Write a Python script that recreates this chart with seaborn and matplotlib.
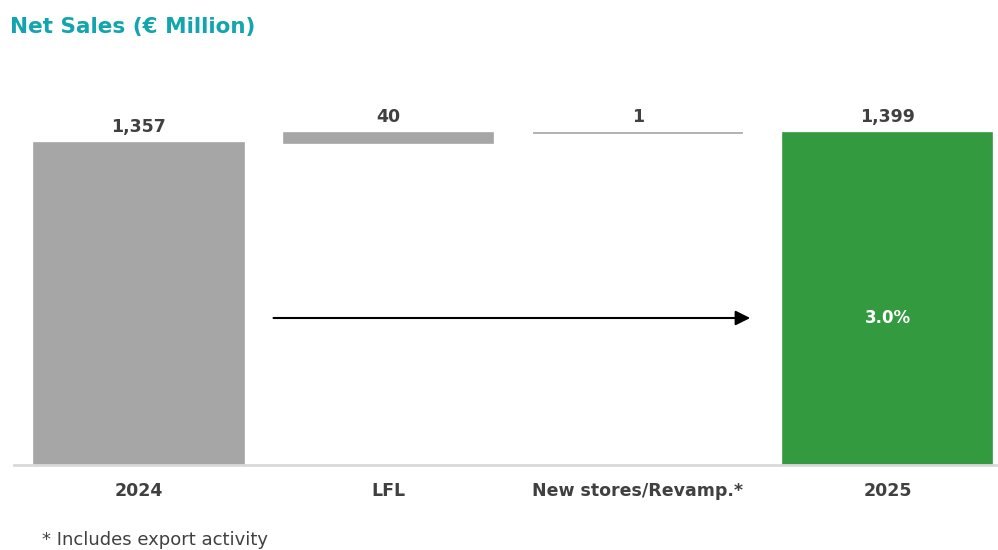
import matplotlib
matplotlib.use("Agg")
import matplotlib.pyplot as plt
import seaborn as sns
import pandas as pd

# Waterfall data (€ million)
categories = ["2024", "LFL", "New stores/Revamp.*", "2025"]
heights = [1357, 40, 1, 1399]
bottoms = [0, 1357, 1397, 0]
value_labels = ["1,357", "40", "1", "1,399"]
growth_label = "3.0%"

GRAY = "#A6A6A6"
GREEN = "#349A3F"
TEXT = "#404040"
TEAL = "#12A5AE"

sns.set_theme(style="white")
plt.rcParams["font.family"] = ["DejaVu Sans"]

fig = plt.figure(figsize=(9.98, 5.5), dpi=100)
ax = fig.add_axes([14 / 998, 1 - 465 / 550, 1 - 14 / 998, (465 - 100) / 550])

df = pd.DataFrame({"category": categories, "value": heights})
sns.barplot(data=df, x="category", y="value", order=categories, color=GRAY,
            width=0.84, bottom=bottoms, saturation=1, ax=ax)

colors = [GRAY, GRAY, GRAY, GREEN]
for patch, c in zip(ax.patches, colors):
    patch.set_facecolor(c)
    patch.set_edgecolor(c)
    patch.set_linewidth(1.2)

ax.set_xlim(-0.5, 3.443)
ax.set_ylim(0, 1537)

# value labels above each bar
for i, (h, b, lab) in enumerate(zip(heights, bottoms, value_labels)):
    top = h + b
    ax.annotate(lab, (i, top), xytext=(0, 5), textcoords="offset points",
                ha="center", va="bottom", fontsize=12.5, fontweight="bold", color=TEXT)

# growth arrow across the bridge and percentage in the final bar
arrow_y = 619
ax.annotate("", xy=(2.45, arrow_y), xytext=(0.54, arrow_y),
            arrowprops=dict(arrowstyle="-|>", color="black", lw=1.5,
                            mutation_scale=22, shrinkA=0, shrinkB=0))
ax.text(3, arrow_y, growth_label, ha="center", va="center", color="white",
        fontsize=12, fontweight="bold")

ax.set_xlabel("")
ax.set_ylabel("")
ax.set_yticks([])
ax.tick_params(axis="x", length=0, pad=12, labelsize=12.5, labelcolor=TEXT)
for lab in ax.get_xticklabels():
    lab.set_fontweight("bold")
for s in ["top", "right", "left"]:
    ax.spines[s].set_visible(False)
ax.spines["bottom"].set_color("#D9D9D9")
ax.spines["bottom"].set_linewidth(2)

fig.text(10 / 998, 1 - 27 / 550, "Net Sales (€ Million)", color=TEAL,
         fontsize=15.5, fontweight="bold", ha="left", va="center")
fig.text(42 / 998, 1 - 540 / 550, "* Includes export activity", color=TEXT,
         fontsize=13, ha="left", va="center")

fig.savefig("out.png", dpi=100)
